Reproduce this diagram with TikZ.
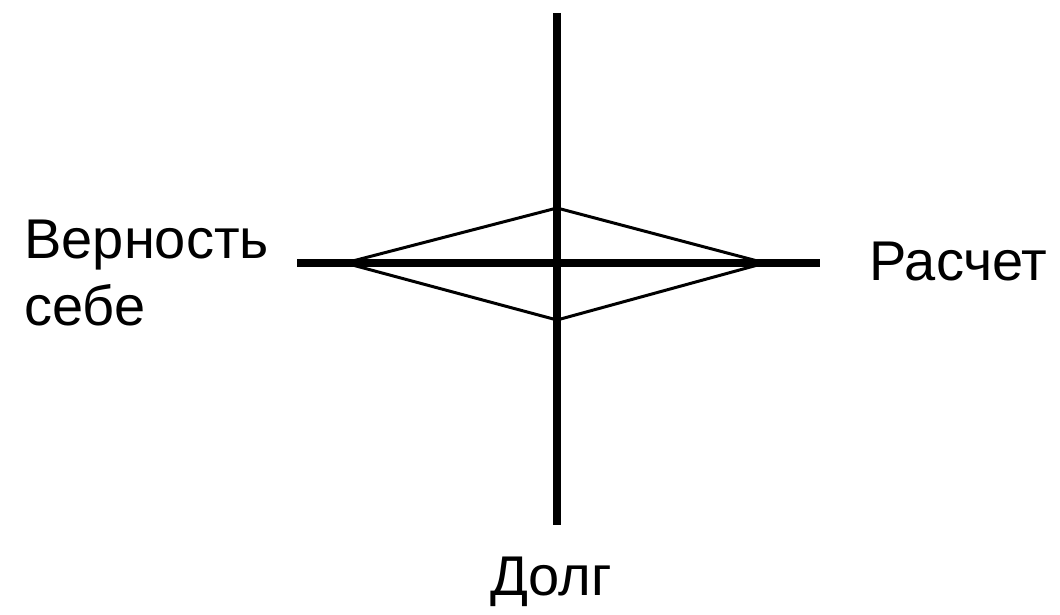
\documentclass[tikz,border=0pt]{standalone}
\usepackage{fontspec}
\setmainfont{Liberation Sans}
\usepackage{tikz}

\begin{document}
\begin{tikzpicture}[
  x=0.5pt,y=-0.5pt,
  axis/.style={line width=4pt},
  rim/.style={line width=1.5pt,line join=miter},
  tag/.style={font=\fontsize{28}{33.5}\selectfont,inner sep=0pt,align=left}
]
\useasboundingbox (0,0) rectangle (1060,615);
% axes
\coordinate (top) at (557,13);
\coordinate (bottom) at (557,525);
\coordinate (west) at (297,263);
\coordinate (east) at (820,263);
% diamond
\coordinate (dl) at (345,263);
\coordinate (dt) at (557,208);
\coordinate (dr) at (765,263);
\coordinate (db) at (557,320);
\draw[axis] (top) -- (bottom);
\draw[axis] (west) -- (east);
\draw[rim] (dl) -- (dt) -- (dr) -- (db) -- cycle;
% labels
\node[tag,anchor=base west] (loyal) at (24,325) {Верность\\себе};
\node[tag,anchor=base west] (calc) at (869,280) {Расчет};
\node[tag,anchor=base] (duty) at (551,595) {Долг};
\end{tikzpicture}
\end{document}
